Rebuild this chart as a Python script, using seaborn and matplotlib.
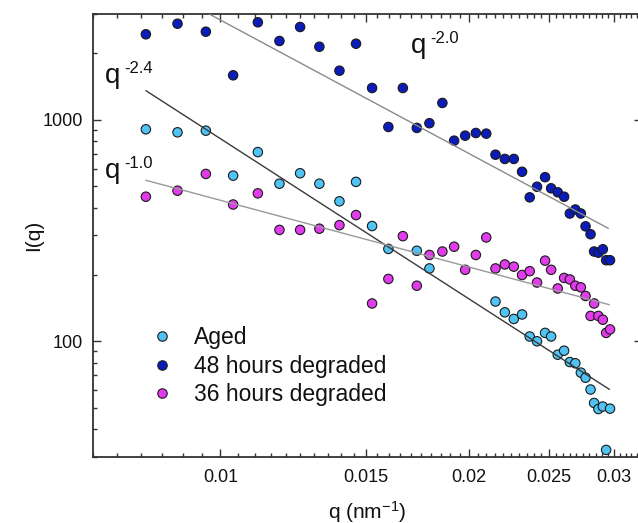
import numpy as np
import pandas as pd
import matplotlib
matplotlib.use("Agg")
import matplotlib.pyplot as plt
import seaborn as sns
from matplotlib.ticker import FixedLocator, FixedFormatter, NullFormatter
from matplotlib.lines import Line2D

# ---------------- data ----------------
q_grid = [0.00812, 0.00887, 0.00960, 0.01036, 0.01110, 0.01179, 0.01249, 0.01318,
          0.01394, 0.01460, 0.01527, 0.01598, 0.01664, 0.01730, 0.01792, 0.01858,
          0.01920, 0.01980, 0.02040, 0.02100, 0.02155, 0.02212, 0.02268, 0.02321,
          0.02371, 0.02420, 0.02475, 0.02517, 0.02564, 0.02610, 0.02652, 0.02693,
          0.02735, 0.02771, 0.02810, 0.02838, 0.02872, 0.02908, 0.02935, 0.02967]

q_48h = q_grid
I_48h = [2429, 2712, 2496, 1586, 2752, 2266, 2621, 2135, 1664, 2203, 1390, 927,
         1390, 918, 964, 1190, 804, 847, 871, 865, 695, 665, 665, 582, 446, 498,
         550, 490, 470, 449, 377, 393, 377, 330, 304, 254, 251, 260, 232, 232]

q_aged = q_grid[0:12] + q_grid[13:15] + q_grid[20:40]
I_aged = [905, 877, 892, 559, 714, 514, 573, 514, 428, 524, 331, 261,
          256, 213,
          151, 135, 126, 132, 105, 99.9, 109, 105, 86.9, 90.6, 80.5, 79.5,
          72.1, 68.4, 60.5, 52.6, 49.4, 50.7, 32.3, 49.6]

q_36h = q_grid
I_36h = [449, 478, 569, 414, 465, 318, 318, 322, 334, 371,
         148, 191, 298, 178, 245, 254, 267, 210, 245, 294,
         213, 222, 217, 199, 207, 184, 231, 210, 173, 193,
         190, 178, 175, 160, 130, 148, 130, 125, 109, 113]

series_names = ["Aged", "48 hours degraded", "36 hours degraded"]
series_colors = ["#4fc3f4", "#0b1cb8", "#e03cec"]

# power-law guide lines: exponent, prefactor, q range, label position, colour
fit_exponents = [-2.0, -2.4, -1.0]
fit_labels = ["-2.0", "-2.4", "-1.0"]
fit_prefactors = [0.2817, 0.013003, 4.326]
fit_qmin = [0.0097, 0.00812, 0.00812]
fit_qmax = [0.02953, 0.02962, 0.02962]
fit_colors = ["#8a8a8a", "#3a3a3a", "#999999"]
label_q = [0.01701, 0.00724, 0.00724]
label_I = [1993, 1464, 545]

x_ticks = [0.01, 0.015, 0.02, 0.025, 0.03]
x_tick_labels = ["0.01", "0.015", "0.02", "0.025", "0.03"]
y_ticks = [100, 1000]
y_tick_labels = ["100", "1000"]

# ---------------- style ----------------
sns.set_style("ticks")
plt.rcParams["font.family"] = ["Liberation Sans", "DejaVu Sans"]
plt.rcParams["mathtext.fontset"] = "custom"
plt.rcParams["mathtext.rm"] = "Liberation Sans"
plt.rcParams["mathtext.it"] = "Liberation Sans:italic"

W, H = 638, 523
fig = plt.figure(figsize=(W / 100, H / 100), dpi=100)
left, right, top, bottom = 92.7, 642.0, 14.0, 457.0
ax = fig.add_axes([left / W, 1 - bottom / H, (right - left) / W, (bottom - top) / H])
ax.set_xscale("log")
ax.set_yscale("log")

df = pd.concat([
    pd.DataFrame({"q": q_aged, "I": I_aged, "series": series_names[0]}),
    pd.DataFrame({"q": q_48h, "I": I_48h, "series": series_names[1]}),
    pd.DataFrame({"q": q_36h, "I": I_36h, "series": series_names[2]}),
], ignore_index=True)

sns.scatterplot(data=df, x="q", y="I", hue="series", hue_order=series_names,
                palette=dict(zip(series_names, series_colors)), s=46,
                edgecolor="#1a1a1a", linewidth=0.8, legend=False, ax=ax, zorder=2)

for e, A, q0, q1, c in zip(fit_exponents, fit_prefactors, fit_qmin, fit_qmax, fit_colors):
    qq = np.geomspace(q0, q1, 60)
    sns.lineplot(x=qq, y=A * qq ** e, color=c, linewidth=1.0, ax=ax, zorder=3,
                 sort=False, estimator=None)

for lab, xq, yi in zip(fit_labels, label_q, label_I):
    ax.text(xq, yi, "q", fontsize=20, ha="left", va="baseline", color="#111111")
    ax.annotate(lab, xy=(xq, yi), xytext=(14.2, 7.3), textcoords="offset points",
                fontsize=12, ha="left", va="baseline", color="#111111")

ax.set_xlim(0.007, 0.03244)
ax.set_ylim(30, 3000)

ax.xaxis.set_major_locator(FixedLocator(x_ticks))
ax.xaxis.set_major_formatter(FixedFormatter(x_tick_labels))
minor_x = [v for v in np.arange(0.0070, 0.0325, 0.0005)
           if all(abs(v - t) > 1e-6 for t in x_ticks)]
ax.xaxis.set_minor_locator(FixedLocator(minor_x))
ax.xaxis.set_minor_formatter(NullFormatter())
ax.yaxis.set_major_locator(FixedLocator(y_ticks))
ax.yaxis.set_major_formatter(FixedFormatter(y_tick_labels))
minor_y = [m * d for d in (10, 100, 1000) for m in range(2, 10)]
ax.yaxis.set_minor_locator(FixedLocator(minor_y))
ax.yaxis.set_minor_formatter(NullFormatter())

ax.tick_params(which="both", direction="in", top=True, right=True,
               color="#333333", width=1.0, labelsize=13, labelcolor="#111111")
ax.tick_params(which="major", length=5.5)
ax.tick_params(which="minor", length=3.0)
ax.tick_params(axis="x", which="major", pad=8.3)
ax.tick_params(axis="y", which="major", pad=7)
for sp in ax.spines.values():
    sp.set_linewidth(1.3)
    sp.set_color("#333333")

ax.set_xlabel("q (nm$^{-1}$)", fontsize=15, color="#111111")
ax.set_ylabel("I(q)", fontsize=15, color="#111111")
ax.xaxis.set_label_coords(0.5, -0.094)
ax.yaxis.set_label_coords(-0.09, 0.5)
ax.xaxis.label.set_va("top")

handles = [Line2D([], [], marker="o", linestyle="", markersize=6.8,
                  markerfacecolor=c, markeredgecolor="#1a1a1a", markeredgewidth=0.8)
           for c in series_colors]
leg = ax.legend(handles, series_names, loc="upper left", bbox_to_anchor=(0.1003, 0.2955),
                frameon=False, fontsize=16.5, handlelength=1.2, handletextpad=0.8,
                labelspacing=0.24, borderpad=0, borderaxespad=0)
for t in leg.get_texts():
    t.set_color("#111111")

fig.savefig("out.png", dpi=100)
